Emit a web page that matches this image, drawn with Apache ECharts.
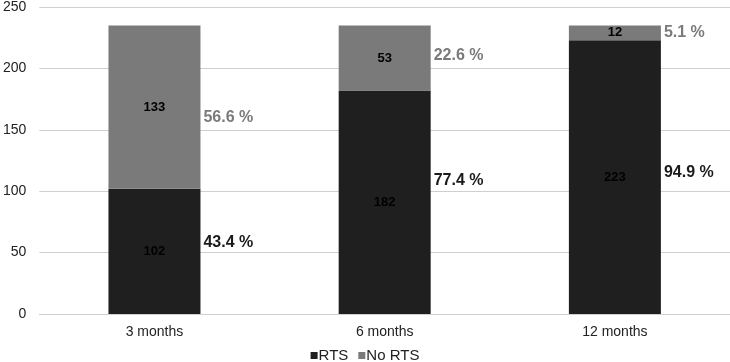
<!DOCTYPE html>
<html>
<head>
<meta charset="utf-8">
<title>RTS stacked bar</title>
<script src="https://cdn.jsdelivr.net/npm/echarts@6/dist/echarts.min.js"></script>
<style>
  html, body { margin: 0; padding: 0; background: #fff; }
  #chart { width: 730px; height: 362px; }
</style>
</head>
<body>
<div id="chart"></div>
<script>
const categories = ['3 months', '6 months', '12 months']
const rts = [102, 182, 223]
const noRts = [133, 53, 12]
const rtsPct = ['43.4 %', '77.4 %', '94.9 %']
const noRtsPct = ['56.6 %', '22.6 %', '5.1 %']
const yTicks = [0, 50, 100, 150, 200, 250]

// small vertical nudges for the percent labels (layout only)
const rtsPctNudge = [-9, -22, -4]
const noRtsPctNudge = [11, -2, 0]

const DARK = '#1f1f1f'
const GRAY = '#7a7a7a'
const FONT = 'Liberation Sans, Arial, sans-serif'

const chart = echarts.init(document.getElementById('chart'))

const valueLabel = {
  show: true,
  position: 'inside',
  color: '#000',
  fontFamily: FONT,
  fontSize: 13,
  fontWeight: 'bold'
}

function pctSeries(name, values, texts, nudges, color) {
  return {
    name: name + ' pct',
    type: 'bar',
    stack: 'pct',
    barWidth: 92,
    barGap: '-100%',
    silent: true,
    itemStyle: { color: 'rgba(0,0,0,0)' },
    data: values.map((v, i) => ({
      value: v,
      label: { offset: [0, nudges[i]] }
    })),
    label: {
      show: true,
      position: 'right',
      distance: 3,
      color: color,
      fontFamily: FONT,
      fontSize: 16,
      fontWeight: 'bold',
      formatter: p => texts[p.dataIndex]
    }
  }
}

chart.setOption({
  animation: false,
  grid: { left: 36, right: 0, top: 6, bottom: 48 },
  legend: {
    data: ['RTS', 'No RTS'],
    top: 343,
    left: 'center',
    itemWidth: 7,
    itemHeight: 7,
    itemGap: 10,
    icon: 'rect',
    textStyle: { color: '#222', fontFamily: FONT, fontSize: 15, padding: [0, 0, 0, -4] }
  },
  xAxis: {
    type: 'category',
    data: categories,
    axisTick: { show: false },
    axisLine: { lineStyle: { color: '#d0d0d0' } },
    axisLabel: { color: '#222', fontFamily: FONT, fontSize: 14, margin: 11 }
  },
  yAxis: {
    type: 'value',
    min: yTicks[0],
    max: yTicks[yTicks.length - 1],
    interval: 50,
    axisLine: { show: false },
    axisTick: { show: false },
    splitLine: { lineStyle: { color: '#cfcfcf' } },
    axisLabel: { color: '#222', fontFamily: FONT, fontSize: 14, margin: 13 }
  },
  series: [
    {
      name: 'RTS',
      type: 'bar',
      stack: 'n',
      barWidth: 92,
      itemStyle: { color: DARK },
      label: valueLabel,
      data: rts
    },
    {
      name: 'No RTS',
      type: 'bar',
      stack: 'n',
      barWidth: 92,
      itemStyle: { color: GRAY },
      label: valueLabel,
      data: noRts
    },
    pctSeries('RTS', rts, rtsPct, rtsPctNudge, '#1a1a1a'),
    pctSeries('No RTS', noRts, noRtsPct, noRtsPctNudge, GRAY)
  ]
})
</script>
</body>
</html>
